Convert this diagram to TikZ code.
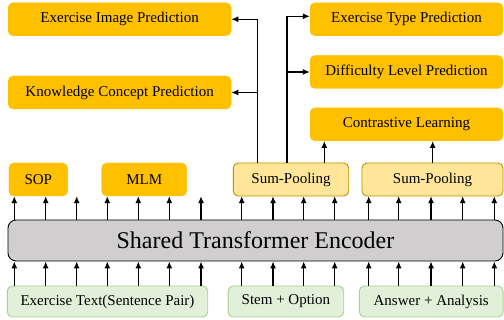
\documentclass[tikz,border=0pt]{standalone}
\usepackage{fontspec}
\setmainfont{Liberation Serif}
\usepackage{tikz}
\usetikzlibrary{arrows.meta}

\definecolor{taskOrange}{HTML}{FFC000}
\definecolor{poolFill}{HTML}{FFE699}
\definecolor{poolLine}{HTML}{BF9000}
\definecolor{inputFill}{HTML}{E2F0D9}
\definecolor{inputLine}{HTML}{A9D18E}
\definecolor{encFill}{HTML}{D0CECE}

\newcommand{\boxfont}{\fontsize{15}{18}\selectfont}
\newcommand{\encfont}{\fontsize{24}{28}\selectfont}

\begin{document}
\begin{tikzpicture}[>={Latex[length=7pt,width=6pt]}, x=1pt, y=1pt]
  \tikzstyle{taskBox} = [fill=taskOrange, draw=taskOrange, rounded corners=5pt, inner sep=0pt, minimum height=33pt, align=center, font=\boxfont]
  \tikzstyle{poolBox} = [taskBox, fill=poolFill, draw=poolLine, line width=0.9pt]
  \tikzstyle{inputBox} = [taskBox, fill=inputFill, draw=inputLine, line width=0.9pt, minimum height=31pt]
  \tikzstyle{encoderBox} = [fill=encFill, draw=black, line width=0.9pt, rounded corners=8pt, inner sep=0pt, minimum width=495pt, minimum height=41pt, font=\encfont]

  \tikzstyle{upEdge} = [black, line width=1.2pt, ->];

  \useasboundingbox (0,0) rectangle (504,-320);

  % prediction heads
  \node[taskBox, minimum width=223pt] (eip) at (119.6,-19.3) {Exercise Image Prediction};
  \node[taskBox, minimum width=223pt] (kcp) at (119.6,-92.5) {Knowledge Concept Prediction};
  \node[taskBox, minimum width=193pt] (etp) at (406.5,-19.3) {Exercise Type Prediction};
  \node[taskBox, minimum width=193pt] (dlp) at (406.5,-72)   {Difficulty Level Prediction};
  \node[taskBox, minimum width=193pt] (cl)  at (406.5,-124.3) {Contrastive Learning};

  % pre-training objectives and pooling
  \node[taskBox, minimum width=58.7pt] (sop) at (38.3,-179.5)  {SOP};
  \node[taskBox, minimum width=85pt]   (mlm) at (144.2,-179.5) {MLM};
  \node[poolBox, minimum width=115.4pt] (sp1) at (291,-179.5)   {Sum-Pooling};
  \node[poolBox, minimum width=141pt]   (sp2) at (432.5,-179.5) {Sum-Pooling};

  \node[encoderBox] (enc) at (255.5,-240.5) {Shared Transformer Encoder};

  % inputs
  \node[inputBox, minimum width=200.4pt] (txt) at (107.5,-301.5) {Exercise Text(Sentence Pair)};
  \node[inputBox, minimum width=115.7pt] (stem) at (285.9,-301.5) {Stem + Option};
  \node[inputBox, minimum width=143.7pt] (ans) at (431.2,-301.5) {Answer + Analysis};

  % token columns
  \foreach \i/\x in {1/14.3,2/45.7,3/76.7,4/107.3,5/138.3,6/169.3,7/201,
                     8/241.7,9/273,10/303.7,11/334.7,
                     12/368.7,13/398.7,14/431,15/462.7,16/494.3}
    \coordinate (col\i) at (\x,0);

  \foreach \i in {1,...,16}
    \draw[upEdge] (enc.north -| col\i) -- (sop.south -| col\i);
  \foreach \i in {1,...,7}
    \draw[upEdge] (txt.north -| col\i) -- (enc.south -| col\i);
  \foreach \i in {8,...,11}
    \draw[upEdge] (stem.north -| col\i) -- (enc.south -| col\i);
  \foreach \i in {12,...,16}
    \draw[upEdge] (ans.north -| col\i) -- (enc.south -| col\i);

  % heads fed by the pooled stem + option
  \coordinate (leftTrunk) at (257.7,0);
  \coordinate (rightTrunk) at (287,0);
  \coordinate (clLeft) at (324.3,0);
  \coordinate (clRight) at (432.7,0);
  \draw[upEdge] (sp1.north -| leftTrunk) |- (eip.east);
  \draw[upEdge] (kcp.east -| leftTrunk) -- (kcp.east);
  \draw[upEdge] (sp1.north -| rightTrunk) |- ([yshift=3pt]etp.west);
  \draw[upEdge] (dlp.west -| rightTrunk) -- (dlp.west);
  \draw[upEdge] (sp1.north -| clLeft) -- (cl.south -| clLeft);
  \draw[upEdge] (sp2.north -| clRight) -- (cl.south -| clRight);

\end{tikzpicture}
\end{document}
